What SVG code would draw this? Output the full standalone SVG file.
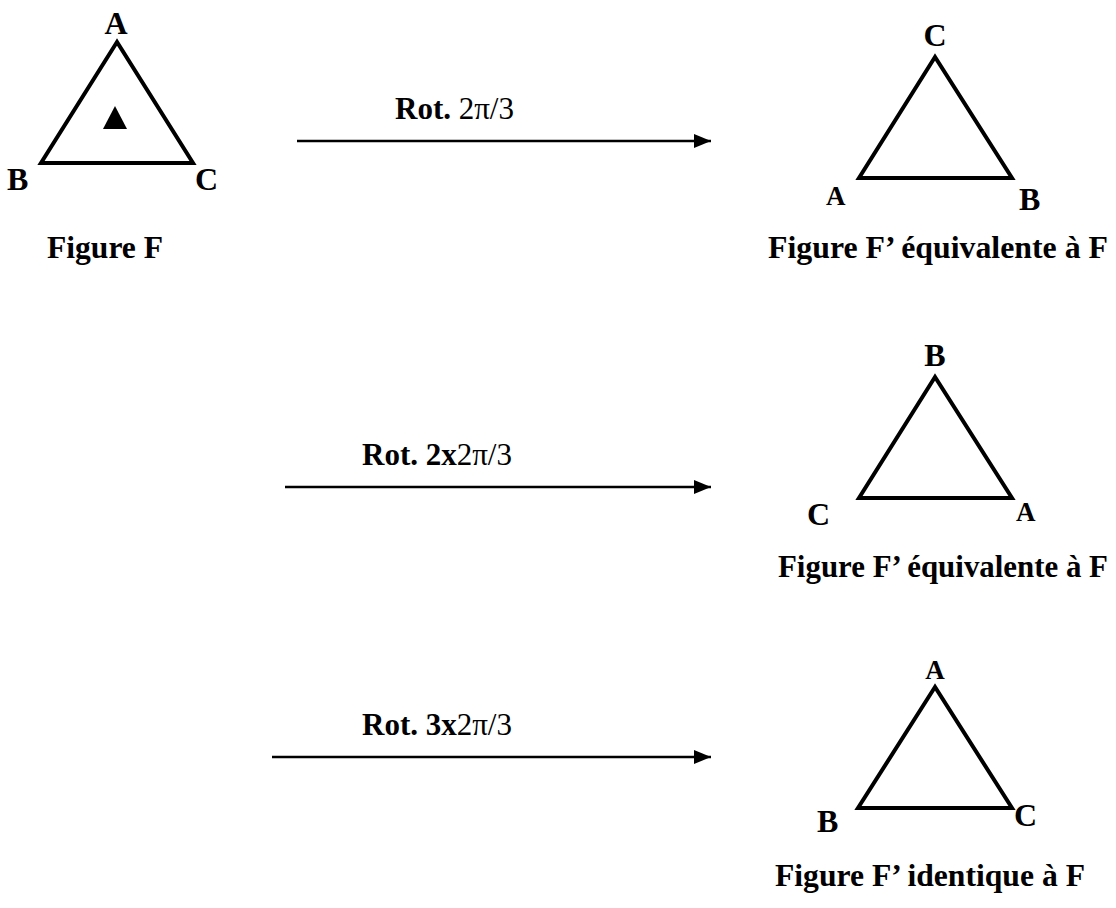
<svg xmlns="http://www.w3.org/2000/svg" width="1116" height="908" viewBox="0 0 1116 908">
<defs>
<style>
.tri{fill:none;stroke:#000;stroke-width:4;stroke-linejoin:miter}
.lb{font-family:"Liberation Serif","Times New Roman",serif;font-weight:bold;font-size:32px;fill:#000}
.sm{font-size:27px}
.cap{font-size:31px}
.rg{font-family:"Liberation Serif","Times New Roman",serif;font-weight:normal;font-size:31px;fill:#000}
.rl{font-size:31px}
.cn{stroke:#000;stroke-width:2.5;fill:none}
</style>
<marker id="ah" viewBox="0 0 17 14" refX="17" refY="7" markerWidth="17" markerHeight="14" markerUnits="userSpaceOnUse" orient="auto">
<path d="M0,0 L17,7 L0,14 Z" fill="#000"/>
</marker>
</defs>
<rect width="1116" height="908" fill="#fff"/>
<g id="figF">
<polygon class="tri" points="117,42 41,163 193,163"/>
<polygon points="115,106 103,129 127,129" fill="#000"/>
<text class="lb" x="116" y="34" text-anchor="middle">A</text>
<text class="lb" x="7" y="190">B</text>
<text class="lb" x="195" y="190">C</text>
<text class="lb cap" x="47" y="258" textLength="116" lengthAdjust="spacingAndGlyphs">Figure F</text>
</g>
<g id="fig2">
<polygon class="tri" points="935,57 859,178 1012,178"/>
<text class="lb" x="935" y="46" text-anchor="middle">C</text>
<text class="lb sm" x="826" y="205">A</text>
<text class="lb" x="1019" y="210">B</text>
<text class="lb cap" x="768" y="258" textLength="340" lengthAdjust="spacingAndGlyphs">Figure F’ équivalente à F</text>
</g>
<g id="fig3">
<polygon class="tri" points="935,377 859,498 1012,498"/>
<text class="lb" x="935" y="366" text-anchor="middle">B</text>
<text class="lb" x="807" y="525">C</text>
<text class="lb sm" x="1016" y="521">A</text>
<text class="lb cap" x="778" y="577" textLength="330" lengthAdjust="spacingAndGlyphs">Figure F’ équivalente à F</text>
</g>
<g id="fig4">
<polygon class="tri" points="935,687 858,808 1012,808"/>
<text class="lb sm" x="935" y="679" text-anchor="middle">A</text>
<text class="lb" x="817" y="832">B</text>
<text class="lb" x="1014" y="826">C</text>
<text class="lb cap" x="775" y="886" textLength="310" lengthAdjust="spacingAndGlyphs">Figure F’ identique à F</text>
</g>
<g id="connectors">
<line class="cn" x1="297" y1="141" x2="711" y2="141" marker-end="url(#ah)"/>
<line class="cn" x1="285" y1="487" x2="711" y2="487" marker-end="url(#ah)"/>
<line class="cn" x1="272" y1="757" x2="711" y2="757" marker-end="url(#ah)"/>
<text x="395" y="119"><tspan class="lb rl">Rot.</tspan><tspan class="rg"> 2π/3</tspan></text>
<text x="362" y="465"><tspan class="lb rl">Rot. 2x</tspan><tspan class="rg">2π/3</tspan></text>
<text x="362" y="735"><tspan class="lb rl">Rot. 3x</tspan><tspan class="rg">2π/3</tspan></text>
</g>
</svg>
